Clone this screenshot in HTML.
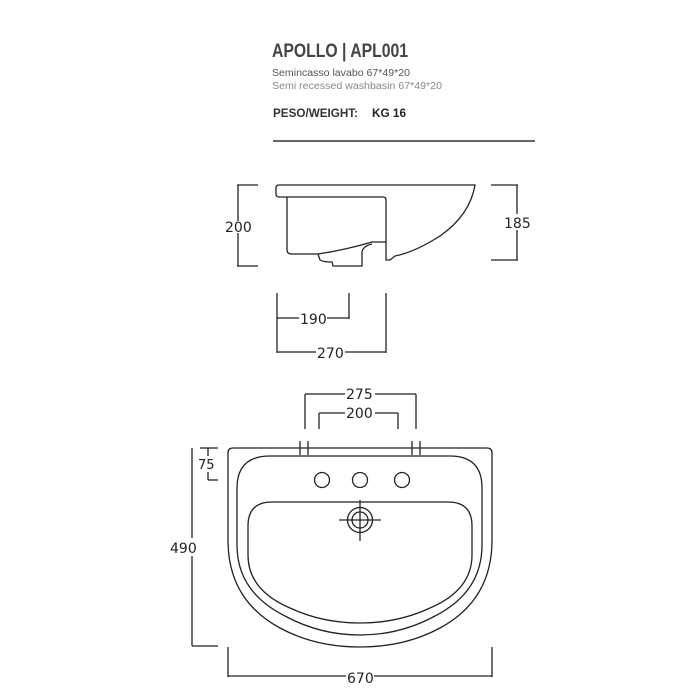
<!DOCTYPE html>
<html><head><meta charset="utf-8"><style>
html,body{margin:0;padding:0;background:#fff;}
svg{display:block;}
.h{font-family:"Liberation Sans",sans-serif;}
.d{font-family:"DejaVu Sans","Liberation Sans",sans-serif;font-size:14px;fill:#222;}
</style></head><body>
<svg width="700" height="700" viewBox="0 0 700 700" xmlns="http://www.w3.org/2000/svg">
<text class="h" x="272" y="57" font-size="19" font-weight="bold" fill="#444" textLength="136" lengthAdjust="spacingAndGlyphs">APOLLO | APL001</text>
<text class="h" x="272" y="76" font-size="10" fill="#555" textLength="138" lengthAdjust="spacingAndGlyphs">Semincasso lavabo 67*49*20</text>
<text class="h" x="272" y="89" font-size="10" fill="#888" textLength="170" lengthAdjust="spacingAndGlyphs">Semi recessed washbasin 67*49*20</text>
<text class="h" x="273" y="117" font-size="12" font-weight="bold" fill="#333" textLength="85" lengthAdjust="spacingAndGlyphs">PESO/WEIGHT:</text>
<text class="h" x="372" y="117" font-size="12" font-weight="bold" fill="#222" textLength="34" lengthAdjust="spacingAndGlyphs">KG 16</text>
<line x1="273" y1="141" x2="535" y2="141" stroke="#666" stroke-width="2"/>

<g fill="none" stroke="#222" stroke-width="1.3">
<!-- side view -->
<path d="M279,185 L475,185 Q470,215 440,236 Q415,252 395,256 L390,260 L386,260 L386,200 Q386,197 383,197 L279,197 Q276,197 276,194 L276,188 Q276,185 279,185 Z"/>
<path d="M287,197 L287,250 Q287,254 292,254 L318,254 Q345,250 372,242 L386,242"/>
<path d="M318,254 L320,260 Q323,262 332,262 L333,266 L362,266 L362,252 Q363,246 372,244"/>
<!-- 200 -->
<line x1="237" y1="185" x2="258" y2="185"/><line x1="237" y1="266" x2="258" y2="266"/>
<line x1="238" y1="185" x2="238" y2="221"/><line x1="238" y1="233" x2="238" y2="266"/>
<!-- 185 -->
<line x1="491" y1="185" x2="518" y2="185"/><line x1="491" y1="260" x2="518" y2="260"/>
<line x1="517" y1="185" x2="517" y2="214"/><line x1="517" y1="230" x2="517" y2="260"/>
<!-- 190 / 270 -->
<line x1="277" y1="293" x2="277" y2="353"/><line x1="349" y1="293" x2="349" y2="319"/><line x1="386" y1="293" x2="386" y2="353"/>
<line x1="277" y1="318" x2="299" y2="318"/><line x1="327" y1="318" x2="349" y2="318"/>
<line x1="277" y1="352" x2="316" y2="352"/><line x1="345" y1="352" x2="386" y2="352"/>

<!-- top view dims -->
<line x1="305" y1="394" x2="305" y2="429"/><line x1="416" y1="394" x2="416" y2="429"/>
<line x1="305" y1="394" x2="345" y2="394"/><line x1="375" y1="394" x2="416" y2="394"/>
<line x1="319" y1="413" x2="319" y2="429"/><line x1="398" y1="413" x2="398" y2="429"/>
<line x1="319" y1="413" x2="345" y2="413"/><line x1="375" y1="413" x2="398" y2="413"/>
<!-- outer -->
<path d="M233,448 L487,448 Q492,448 492,453 L492,540 Q492,600 440,628 Q405,647 360,647 Q315,647 280,628 Q228,600 228,540 L228,453 Q228,448 233,448 Z"/>
<line x1="300" y1="441" x2="300" y2="455"/><line x1="308" y1="441" x2="308" y2="455"/>
<line x1="412" y1="441" x2="412" y2="455"/><line x1="420" y1="441" x2="420" y2="455"/>
<!-- middle -->
<path d="M270,456 L450,456 Q482,456 482,488 L482,545 Q482,592 435,616 Q400,635 360,635 Q320,635 285,616 Q237,592 237,545 L237,488 Q237,456 270,456 Z"/>
<!-- bowl -->
<path d="M272,502 L448,502 Q472,502 472,526 L472,555 Q472,590 430,608 Q398,623 360,623 Q322,623 290,608 Q248,590 248,555 L248,526 Q248,502 272,502 Z"/>
<circle cx="322" cy="480" r="7.5"/><circle cx="360" cy="480" r="7.5"/><circle cx="402" cy="480" r="7.5"/>
<circle cx="360" cy="520" r="12.5"/><circle cx="360" cy="520" r="8"/>
<line x1="339" y1="520" x2="381" y2="520"/><line x1="360" y1="500" x2="360" y2="541"/>
<!-- 75 -->
<line x1="200" y1="448" x2="218" y2="448"/>
<line x1="208" y1="448" x2="208" y2="456"/><line x1="208" y1="472" x2="208" y2="480"/><line x1="208" y1="480" x2="218" y2="480"/>
<!-- 490 -->
<line x1="192" y1="448" x2="192" y2="538"/><line x1="192" y1="556" x2="192" y2="646"/>
<line x1="192" y1="646" x2="218" y2="646"/>
<!-- 670 -->
<line x1="228" y1="647" x2="228" y2="677"/><line x1="492" y1="647" x2="492" y2="677"/>
<line x1="228" y1="676" x2="346" y2="676"/><line x1="374" y1="676" x2="492" y2="676"/>
</g>
<g class="d">
<text x="225" y="232">200</text>
<text x="504" y="228">185</text>
<text x="300" y="324">190</text>
<text x="317" y="358">270</text>
<text x="346" y="399">275</text>
<text x="346" y="418">200</text>
<text x="198" y="469" font-size="13">75</text>
<text x="170" y="553">490</text>
<text x="347" y="683">670</text>
</g>
</svg>
</body></html>
